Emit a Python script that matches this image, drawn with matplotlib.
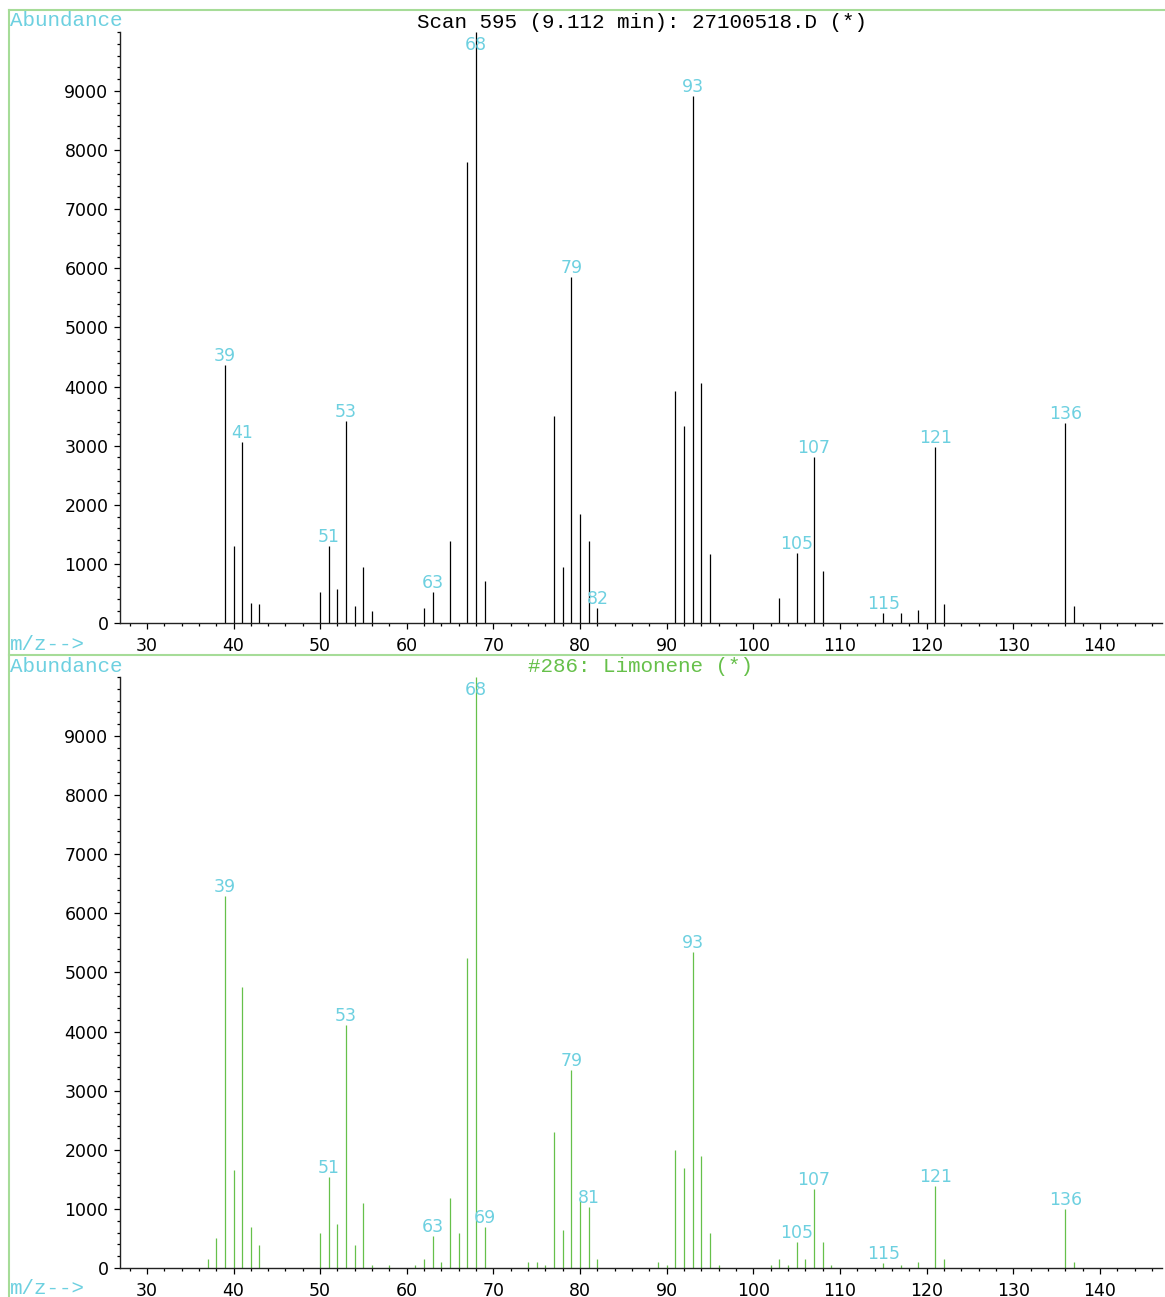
import numpy as np
import matplotlib.pyplot as plt
from matplotlib.lines import Line2D
from matplotlib.ticker import MultipleLocator

# scanned spectrum (top)
scan_mz = [39, 40, 41, 42, 43, 50, 51, 52, 53, 54, 55, 56, 62, 63, 65, 67, 68, 69,
           77, 78, 79, 80, 81, 82, 91, 92, 93, 94, 95, 103, 105, 107, 108,
           115, 117, 119, 121, 122, 136, 137]
scan_ab = [4360, 1300, 3060, 340, 320, 530, 1300, 575, 3410, 290, 950, 205, 255, 525, 1390, 7800, 10000, 710,
           3500, 950, 5860, 1840, 1390, 255, 3920, 3330, 8920, 4060, 1165, 425, 1185, 2800, 880,
           170, 165, 220, 2975, 320, 3380, 290]
scan_labels = [39, 41, 51, 53, 63, 68, 79, 82, 93, 105, 107, 115, 121, 136]

# library spectrum (bottom)
lib_mz = [37, 38, 39, 40, 41, 42, 43, 50, 51, 52, 53, 54, 55, 56, 58, 61, 62, 63, 64, 65, 66, 67, 68, 69,
          74, 75, 76, 77, 78, 79, 80, 81, 82, 89, 90, 91, 92, 93, 94, 95, 96,
          102, 103, 104, 105, 106, 107, 108, 109, 115, 117, 119, 121, 122, 136, 137]
lib_ab = [150, 500, 6290, 1650, 4750, 700, 395, 600, 1545, 745, 4105, 395, 1100, 50, 50, 50, 150, 540, 95, 1190, 590, 5240, 10000, 690,
          95, 95, 45, 2300, 640, 3345, 1150, 1035, 150, 95, 45, 1995, 1695, 5340, 1900, 590, 45,
          45, 150, 45, 440, 150, 1335, 440, 45, 90, 45, 95, 1390, 150, 990, 95]
lib_labels = [39, 51, 53, 63, 68, 69, 79, 81, 93, 105, 107, 115, 121, 136]

cyan = '#6dd0e0'
green = '#66c04a'
frame = '#a6dc98'
mono = 'Liberation Mono'

fig = plt.figure(figsize=(11.65, 12.97), dpi=100)


def spectrum(ax, mz, ab, labels, color):
    ax.vlines(mz, 0, ab, color=color, lw=0.9)
    ax.set_xlim(26.9, 147.1)
    ax.set_ylim(0, 10000)
    ax.spines['top'].set_visible(False)
    ax.spines['right'].set_visible(False)
    for s in ['left', 'bottom']:
        ax.spines[s].set_linewidth(1.0)
        ax.spines[s].set_color('#222222')
    ax.xaxis.set_major_locator(MultipleLocator(10))
    ax.xaxis.set_minor_locator(MultipleLocator(2))
    ax.yaxis.set_major_locator(MultipleLocator(1000))
    ax.yaxis.set_minor_locator(MultipleLocator(200))
    ax.set_yticks(np.arange(0, 10000, 1000))
    ax.tick_params(which='major', length=4.3, width=0.9, labelsize=12.5, pad=4)
    ax.tick_params(which='minor', length=2.5, width=0.9)
    ax.tick_params(axis='x', which='major', pad=6)
    ax.patch.set_alpha(0)
    lookup = dict(zip(mz, ab))
    for m in labels:
        y = min(lookup[m], 9620)
        ax.annotate(str(m), (m, y), xytext=(0, 0), textcoords='offset points',
                    ha='center', va='bottom', color=cyan, fontsize=12.5)


ax1 = fig.add_axes([0.103, 0.5197, 0.894, 0.4557])
spectrum(ax1, scan_mz, scan_ab, scan_labels, 'black')
ax2 = fig.add_axes([0.103, 0.02236, 0.894, 0.4557])
spectrum(ax2, lib_mz, lib_ab, lib_labels, green)

# frame lines
fig.add_artist(Line2D([9 / 1165, 1], [1 - 10 / 1297] * 2, color=frame, lw=1.5))
fig.add_artist(Line2D([9 / 1165] * 2, [0, 1 - 10 / 1297], color=frame, lw=1.5))
fig.add_artist(Line2D([9 / 1165, 1], [1 - 655 / 1297] * 2, color=frame, lw=1.5))

# header texts
for yy in [21, 666]:
    fig.text(10 / 1165, 1 - yy / 1297, 'Abundance', color=cyan, family=mono,
             fontsize=15, ha='left', va='center')
for yy in [645, 1289]:
    fig.text(10 / 1165, 1 - yy / 1297, 'm/z-->', color=cyan, family=mono,
             fontsize=15, ha='left', va='center')
fig.text(642 / 1165, 1 - 22 / 1297, 'Scan 595 (9.112 min): 27100518.D (*)', color='black',
         family=mono, fontsize=15, ha='center', va='center')
fig.text(641 / 1165, 1 - 667 / 1297, '#286: Limonene (*)', color=green,
         family=mono, fontsize=15, ha='center', va='center')

fig.savefig('out.png', dpi=100)
